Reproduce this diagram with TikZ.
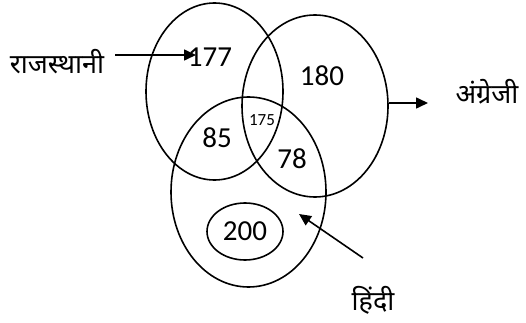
\documentclass[tikz,border=0pt]{standalone}
\usepackage{fontspec}
\setmainfont{Carlito}
\newfontfamily\deva[Script=Devanagari]{Noto Sans}
\usetikzlibrary{shapes.geometric,arrows.meta}
\begin{document}
\begin{tikzpicture}[
        x = 1pt,
        y = -1pt,
        line width = 1.6pt,
        set/.style = {draw, ellipse, inner sep = 0pt},
        num/.style = {font = \fontsize{29}{32}\selectfont},
        lbl/.style = {font = \deva\fontsize{27}{30}\selectfont},
        pointer/.style = {-{Triangle[length = 12pt, width = 11pt]}}
    ]
        \useasboundingbox (0,0) rectangle (526,323);
        % the three sets
        \node[set, minimum width = 137pt, minimum height = 177pt] (raj) at (214.5, 91.5) {};
        \node[set, minimum width = 146pt, minimum height = 182pt] (eng) at (315, 106) {};
        \node[set, minimum width = 155pt, minimum height = 190pt] (hin) at (248.5, 192) {};
        \node[set, minimum width = 76pt, minimum height = 57pt, num] (only) at (245, 231.5) {200};
        % region values
        \node[num] (n177) at (210, 57) {177};
        \node[num] (n180) at (322, 76) {180};
        \node[num] (n85) at (217, 138) {85};
        \node[num] (n78) at (292, 159) {78};
        \node[font = \fontsize{17}{19}\selectfont] (n175) at (262, 120) {175};
        % names
        \node[lbl] (rajname) at (57, 62) {राजस्थानी};
        \node[lbl] (engname) at (487, 92) {अंग्रेजी};
        \node[lbl] (hinname) at (373, 300) {हिंदी};
        \coordinate (rajtip) at (196, 55);
        \coordinate (engtip) at (428, 103);
        \coordinate (hinfoot) at (363, 258);
        \coordinate (hintip) at (299, 214);
        \draw[pointer] ([xshift = 7pt]rajname.east |- rajtip) -- (rajtip);
        \draw[pointer] (eng.east |- engtip) -- (engtip);
        \draw[pointer] (hinfoot) -- (hintip);
    \end{tikzpicture}
\end{document}
